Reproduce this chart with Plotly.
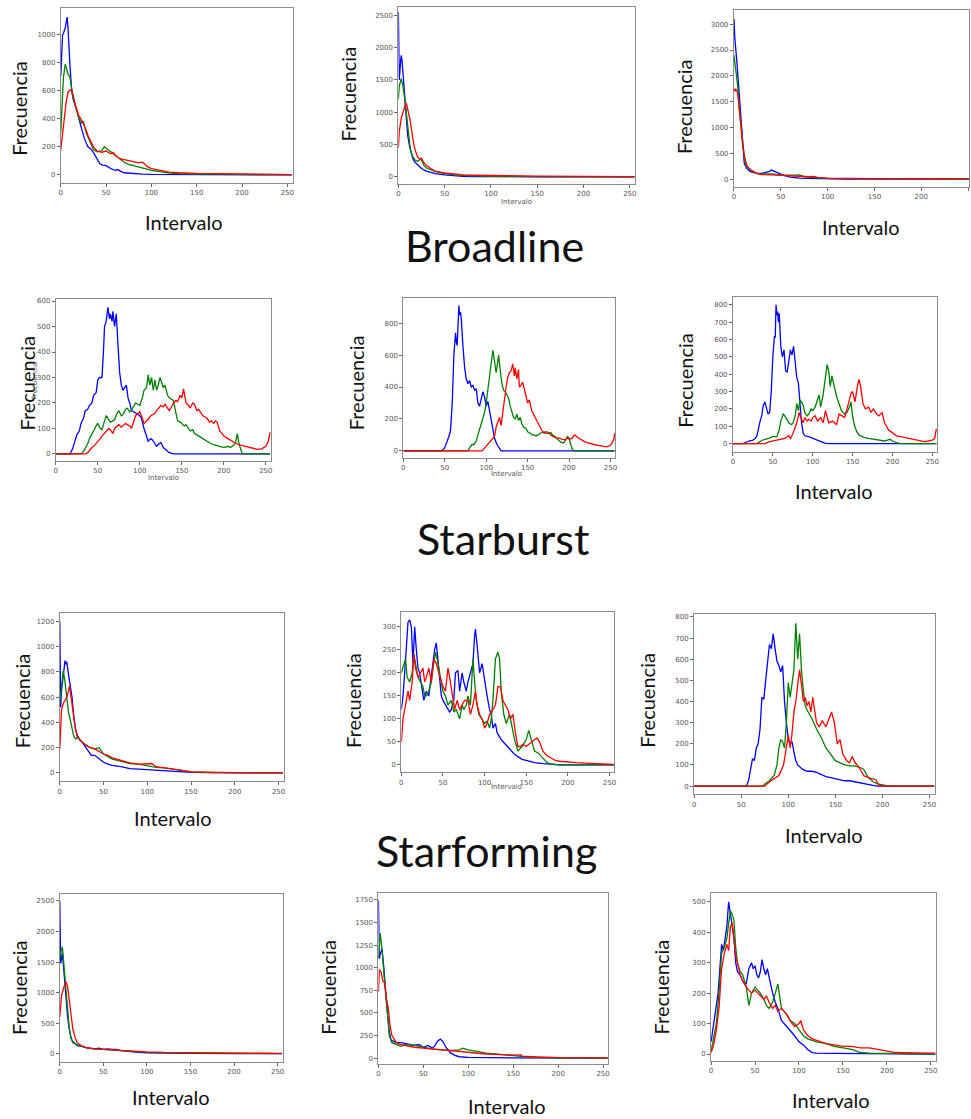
import plotly.graph_objects as go

W, H = 971, 1119

# ---------------- data ----------------
# Panel 1 (Broadline, left)
P1_B_X = [0,1,2,3,5,7,8,10,12,14,16,18,20,23,26,30,33,36,40,43,46,50,55,60,63,66,70,75,80,90,100,120,150,200,255]
P1_B_Y = [700,880,1000,1010,1050,1125,1050,800,600,530,500,460,400,330,260,200,185,160,110,80,70,65,45,32,38,25,15,12,8,5,3,2,1,0,0]
P1_G_X = [0,1,3,5,6,8,10,12,14,17,20,23,25,28,30,33,36,40,45,48,50,55,60,65,70,75,80,85,90,95,100,110,120,130,150,200,255]
P1_G_Y = [300,450,700,790,760,720,700,620,540,470,400,370,380,300,270,220,180,165,170,200,190,160,140,110,90,75,65,60,50,40,32,20,12,8,5,3,1]
P1_R_X = [0,2,4,6,8,10,12,14,16,18,20,23,26,28,30,33,36,40,45,50,55,58,60,65,70,75,80,85,90,93,95,100,110,120,130,140,150,175,200,225,255]
P1_R_Y = [180,300,420,520,590,605,600,560,500,450,420,390,350,320,280,240,200,170,160,170,150,160,140,115,110,100,95,85,90,75,60,45,30,20,15,12,10,8,5,3,2]

# Panel 2 (Broadline, middle)
P2_B_X = [0,1,2,3,4,6,8,10,12,14,16,18,20,25,30,35,40,50,60,70,80,100,150,255]
P2_B_Y = [2550,1500,1700,1880,1800,1400,1000,650,480,350,270,220,200,130,90,70,50,30,15,8,5,2,1,0]
P2_G_X = [0,1,3,5,7,9,11,13,15,18,20,22,24,26,28,30,35,40,50,60,80,100,150,255]
P2_G_Y = [1200,1400,1520,1400,1200,900,600,420,330,260,240,250,280,220,170,140,110,80,50,30,15,8,3,1]
P2_R_X = [0,1,3,5,7,8,9,11,13,15,17,19,21,23,25,27,30,35,40,50,60,70,80,100,150,200,255]
P2_R_Y = [450,700,900,1000,1100,1140,1120,1000,850,650,480,380,300,280,290,230,180,130,90,60,40,30,25,20,12,8,5]

# Panel 3 (Broadline, right)
P3_B_X = [0,1,3,5,7,9,11,14,17,20,25,30,35,38,40,43,45,48,50,55,60,65,70,80,90,100,120,150,255]
P3_B_Y = [3100,2700,2300,1800,1200,700,300,200,150,130,110,110,130,150,175,150,140,110,90,60,40,25,20,15,10,5,2,1,0]
P3_G_X = [0,2,4,6,8,10,12,15,20,25,30,40,50,60,65,70,73,75,80,90,100,120,150,200,255]
P3_G_Y = [2400,2100,1800,1300,900,600,300,200,150,110,100,100,80,70,75,80,60,50,40,25,15,8,4,2,1]
P3_R_X = [0,1,2,3,4,5,7,9,11,14,18,25,30,40,50,60,70,80,85,90,100,120,150,200,255]
P3_R_Y = [1750,1700,1740,1720,1650,1500,1100,700,450,250,180,100,85,80,70,60,55,45,50,30,20,12,8,5,3]

# Panel 4 (Starburst, left)
P4_B_X = [0,17,20,23,25,28,30,33,35,38,40,43,45,48,50,52,55,57,58,60,62,64,65,67,68,70,72,74,76,78,80,82,84,86,88,90,93,95,98,100,102,105,108,110,113,115,118,120,123,125,128,130,133,135,140,255]
P4_B_Y = [0,0,20,55,75,90,120,140,170,175,190,200,230,240,290,300,300,420,500,520,575,530,550,520,560,500,550,430,320,270,250,260,270,220,200,170,165,160,155,150,140,100,70,50,60,55,40,30,40,45,25,20,10,5,0,0]
P4_G_X = [0,30,33,35,38,40,43,45,48,50,53,55,58,60,63,65,68,70,73,75,78,80,83,85,88,90,93,95,98,100,103,105,108,110,112,114,116,118,120,122,124,126,128,130,133,135,138,140,143,145,148,150,153,155,158,160,163,165,168,170,175,180,185,190,195,200,205,208,210,212,214,216,218,222,255]
P4_G_Y = [0,0,10,20,40,60,75,90,110,120,100,95,130,150,135,125,130,135,160,170,150,155,175,180,165,170,190,200,195,190,220,250,260,310,270,300,250,290,250,270,300,280,260,270,230,220,215,210,160,130,125,120,110,115,100,90,95,80,75,70,60,50,40,35,30,25,30,25,30,35,45,80,40,0,0]
P4_R_X = [0,35,38,40,43,45,48,50,53,55,58,60,63,65,68,70,73,75,78,80,83,85,88,90,93,95,98,100,103,105,108,110,113,115,118,120,123,125,128,130,133,135,138,140,143,145,148,150,152,155,158,160,163,165,168,170,173,175,178,180,183,185,188,190,192,195,198,200,205,210,215,220,225,230,235,240,245,250,253,255]
P4_R_Y = [0,0,5,15,25,30,40,50,60,70,80,90,100,95,80,100,110,115,105,110,120,115,110,100,130,150,160,165,140,120,130,135,150,155,160,170,180,190,185,195,180,170,185,200,210,205,230,220,255,200,190,180,200,195,170,175,160,150,145,140,125,130,120,130,125,90,80,70,60,50,40,35,30,25,20,18,20,30,50,85]

# Panel 5 (Starburst, middle)
P5_B_X = [0,46,50,53,55,57,59,61,63,64,65,67,68,69,70,72,74,76,78,80,82,84,86,88,90,92,94,96,98,100,102,104,106,108,110,113,115,118,255]
P5_B_Y = [0,0,20,60,90,130,300,600,740,680,660,910,850,870,820,650,520,450,420,440,400,410,380,390,300,280,320,370,340,280,310,250,180,120,80,40,20,0,0]
P5_G_X = [0,78,80,83,85,88,90,93,95,98,100,103,105,107,108,110,112,114,115,117,119,121,123,125,127,129,131,133,135,137,139,141,143,145,148,150,153,155,158,160,163,165,168,170,173,175,178,180,183,185,188,190,193,195,198,200,202,204,206,255]
P5_G_Y = [0,0,20,40,40,60,100,150,180,240,300,420,500,600,630,560,490,560,600,500,420,380,370,350,330,280,240,210,200,230,190,210,170,150,140,120,110,100,100,95,100,110,115,120,110,110,115,100,90,80,60,55,50,60,90,80,40,10,0,0]
P5_R_X = [0,95,100,103,105,108,110,112,114,116,118,120,122,124,126,128,130,132,134,135,137,139,140,142,144,146,148,150,152,155,158,160,163,165,168,170,173,175,178,180,183,185,188,190,193,195,198,200,203,205,207,210,213,215,218,220,225,230,235,240,245,250,252,254,255]
P5_R_Y = [0,0,30,50,60,80,90,150,180,210,160,250,320,400,460,490,500,545,470,520,450,510,400,410,430,380,330,300,320,250,220,200,170,140,120,110,120,115,100,90,85,80,80,75,70,70,80,75,75,90,100,85,75,65,60,55,45,40,35,30,25,35,50,70,110]

# Panel 6 (Starburst, right)
P6_B_X = [0,12,15,20,25,28,30,32,34,36,38,40,42,44,46,48,50,52,53,54,55,56,57,58,60,62,64,66,68,70,72,74,76,78,80,82,84,86,88,90,95,100,105,110,115,120,255]
P6_B_Y = [0,0,5,15,20,30,45,100,130,160,220,240,200,170,180,300,500,620,610,800,740,760,700,750,560,500,540,420,410,480,540,510,560,470,380,350,200,120,60,45,40,30,20,10,3,0,0]
P6_G_X = [0,30,35,40,45,50,55,58,60,63,65,68,70,73,75,78,80,82,84,86,88,90,93,95,98,100,103,105,108,110,113,115,117,118,120,122,124,126,128,130,133,136,140,143,146,148,150,152,155,158,160,165,170,180,190,197,200,205,210,255]
P6_G_Y = [0,0,15,25,30,40,40,80,130,170,160,140,120,110,115,160,230,190,250,240,220,180,160,170,200,190,210,240,280,210,280,350,430,455,420,330,390,350,300,270,230,190,170,180,210,240,160,110,70,50,45,35,30,22,15,25,15,5,0,0]
P6_R_X = [0,40,45,50,55,60,65,70,72,75,78,80,83,85,88,90,93,95,98,100,103,106,110,113,116,120,125,130,133,136,140,143,146,148,150,153,156,158,160,163,166,170,173,176,180,183,187,190,195,200,205,210,215,220,225,230,235,240,245,250,253,255]
P6_R_Y = [0,0,10,15,20,25,30,45,30,55,100,120,180,150,120,150,130,140,130,150,160,130,150,120,190,120,130,110,170,160,150,200,260,290,300,240,330,370,330,230,200,210,180,200,170,160,180,120,80,60,45,40,35,30,25,20,15,12,15,20,30,85]

# Panel 7 (Starforming, left)
P7_B_X = [0,1,2,4,6,7,8,10,12,14,16,18,20,23,26,30,33,36,40,45,50,55,60,70,80,90,100,110,120,130,140,150,175,255]
P7_B_Y = [1200,520,650,800,890,860,880,780,700,600,450,350,300,260,240,200,160,140,140,110,85,70,60,50,35,30,25,25,20,15,8,4,2,0]
P7_G_X = [0,2,4,6,8,10,12,14,16,18,20,25,30,35,40,45,50,60,70,80,90,100,110,120,130,140,150,175,255]
P7_G_Y = [550,700,810,720,600,480,420,340,290,270,280,250,220,200,190,200,150,110,90,75,70,55,45,40,30,15,8,3,0]
P7_R_X = [0,1,2,4,6,8,10,11,12,13,15,18,20,25,30,35,40,45,50,55,60,70,80,90,100,105,110,120,130,140,150,175,200,255]
P7_R_Y = [190,400,500,550,580,600,650,690,650,600,460,340,290,250,220,200,190,170,150,140,120,100,80,70,70,75,50,40,35,20,8,5,3,2]

# Panel 8 (Starforming, middle)
P8_B_X = [0,2,4,6,8,10,12,14,16,18,20,22,25,27,30,33,35,38,40,42,44,46,48,50,53,55,58,60,63,65,68,70,73,75,78,80,83,86,88,89,91,94,97,100,103,106,108,110,113,115,120,125,130,135,140,145,150,155,160,170,180,190,255]
P8_B_Y = [120,150,200,260,310,315,300,220,300,250,210,200,160,140,160,150,180,230,250,265,230,180,150,140,130,125,115,120,140,200,205,160,200,180,160,180,200,220,280,295,260,200,220,180,150,120,110,80,90,70,55,45,35,25,18,12,10,8,5,3,1,0,0]
P8_G_X = [0,3,5,7,10,13,15,18,20,23,26,28,30,33,36,38,41,43,46,50,53,56,60,63,66,70,73,75,78,80,83,86,88,90,93,96,100,103,106,108,110,113,116,118,120,123,126,130,133,136,140,145,150,153,156,160,165,170,175,180,190,255]
P8_G_Y = [200,220,230,190,180,200,240,210,190,180,170,150,150,160,180,210,245,230,200,160,150,130,140,115,120,100,130,120,130,150,130,230,180,140,110,100,90,95,80,100,140,230,245,230,160,110,90,110,80,55,30,40,55,75,55,30,25,15,5,2,0,0]
P8_R_X = [0,2,5,8,10,13,15,17,20,23,26,28,30,33,36,39,42,45,48,50,53,56,58,61,64,67,70,73,76,80,83,86,89,91,94,97,100,103,106,110,113,116,119,122,125,128,131,134,137,140,143,146,150,153,156,160,163,166,170,175,180,185,190,200,210,220,230,240,255]
P8_R_Y = [50,100,130,160,140,180,240,210,190,200,210,180,190,210,180,230,220,200,180,170,160,210,190,150,120,140,120,130,140,140,110,130,160,130,110,100,80,90,110,120,130,170,170,140,130,120,100,110,70,40,40,45,40,45,50,55,58,50,30,20,15,10,8,6,5,4,3,2,1]

# Panel 9 (Starforming, right)
P9_B_X = [0,55,56,58,60,62,64,66,68,70,72,74,76,78,80,82,84,86,88,90,92,94,96,98,100,102,104,106,108,110,115,120,125,130,135,140,145,150,155,160,165,170,175,180,185,190,195,255]
P9_B_Y = [0,0,5,30,80,130,120,180,200,270,420,410,500,600,670,650,720,650,590,570,540,570,400,300,220,200,210,160,120,100,80,70,70,65,55,45,40,35,30,25,25,20,15,10,5,3,0,0]
P9_G_X = [0,73,75,80,85,88,90,92,94,96,98,100,102,104,106,108,110,112,114,116,118,120,125,130,135,140,145,150,155,160,165,170,175,180,185,190,195,200,207,255]
P9_G_Y = [0,0,10,25,50,100,180,220,210,180,300,490,420,480,550,770,600,720,550,450,380,360,320,270,230,180,150,120,110,100,95,95,90,80,40,20,10,5,0,0]
P9_R_X = [0,75,80,85,88,90,95,98,100,102,104,106,108,110,112,114,116,118,120,122,124,126,128,130,133,136,140,143,146,149,152,155,158,162,165,168,171,175,180,185,190,193,196,200,255]
P9_R_Y = [0,0,20,35,40,50,100,200,240,180,250,350,400,480,550,480,400,420,380,400,350,420,370,300,280,310,280,320,350,300,200,220,150,120,110,140,110,90,50,40,35,30,5,0,0]

# Panel 10 (bottom row, left)
P10_B_X = [0,1,2,3,5,7,9,11,13,15,20,25,30,40,45,50,55,60,65,70,80,90,100,120,150,200,255]
P10_B_Y = [2500,1480,1550,1650,1300,900,600,400,250,200,130,120,100,80,90,70,80,70,70,50,30,20,15,10,5,3,0]
P10_G_X = [0,1,3,5,7,9,11,13,15,20,25,30,40,50,60,70,80,90,100,120,150,200,255]
P10_G_Y = [1550,1650,1750,1400,1000,700,400,250,180,150,130,100,80,70,60,50,40,30,20,15,8,5,2]
P10_R_X = [0,2,5,7,9,11,13,15,18,20,25,30,40,50,60,70,80,90,100,120,150,200,255]
P10_R_Y = [600,950,1100,1180,1100,850,600,400,250,180,130,100,80,70,60,55,45,40,30,20,12,8,5]

# Panel 11 (bottom row, middle)
P11_B_X = [0,1,2,4,6,8,10,12,14,18,20,25,30,35,40,45,50,55,60,63,66,69,72,75,80,85,90,100,120,150,255]
P11_B_Y = [1750,1100,1150,1210,1000,700,500,300,200,180,170,170,160,150,140,150,120,140,110,140,190,210,180,120,60,30,15,8,5,3,0]
P11_G_X = [0,2,4,6,8,10,12,15,20,25,30,40,50,60,70,80,90,94,100,110,120,130,140,150,160,170,200,255]
P11_G_Y = [1100,1380,1200,900,700,500,250,170,150,130,150,140,120,100,90,85,90,110,90,70,55,45,35,25,15,8,3,0]
P11_R_X = [0,1,3,5,7,9,11,13,15,20,25,30,40,50,60,70,80,90,100,110,120,130,140,150,156,158,160,170,180,200,255]
P11_R_Y = [730,980,950,850,830,650,550,350,250,170,150,140,120,110,100,90,80,70,65,55,45,40,35,30,32,40,20,15,10,6,3]

# Panel 12 (bottom row, right)
P12_B_X = [0,3,5,8,10,12,14,16,18,20,22,24,26,28,30,33,36,40,43,46,48,50,52,54,56,58,60,62,64,66,68,70,73,76,80,83,86,90,95,100,105,110,115,120,140,255]
P12_B_Y = [40,100,130,200,280,360,340,380,420,500,450,420,380,300,270,260,240,230,280,300,280,290,260,250,270,310,280,260,280,250,220,200,170,150,110,100,90,80,60,40,30,15,5,3,2,0]
P12_G_X = [0,3,6,9,12,15,18,20,22,24,26,28,30,33,36,40,43,46,50,53,56,60,63,66,70,73,76,78,80,83,86,90,95,100,105,110,115,120,130,140,150,160,170,180,200,255]
P12_G_Y = [10,50,100,200,330,350,380,430,470,460,440,350,300,270,260,220,160,200,220,210,200,180,160,150,170,200,230,190,150,140,130,110,100,80,60,50,45,40,35,25,20,15,5,3,2,0]
P12_R_X = [0,3,6,9,12,15,18,20,22,24,26,28,30,33,36,40,43,46,50,53,56,60,63,66,70,73,76,80,83,86,90,95,100,102,105,110,115,120,130,140,150,160,170,180,190,200,210,230,255]
P12_R_Y = [5,30,80,150,280,330,360,340,420,430,380,320,300,260,240,220,210,200,210,200,190,180,190,170,150,160,140,150,140,130,110,90,100,110,80,60,50,45,35,30,25,25,20,20,15,8,5,4,3]

SECTION_TITLES = ["Broadline", "Starburst", "Starforming"]
X_TICKS = [0, 50, 100, 150, 200, 250]

PANEL_SERIES = [
    ((P1_B_X, P1_B_Y), (P1_G_X, P1_G_Y), (P1_R_X, P1_R_Y)),
    ((P2_B_X, P2_B_Y), (P2_G_X, P2_G_Y), (P2_R_X, P2_R_Y)),
    ((P3_B_X, P3_B_Y), (P3_G_X, P3_G_Y), (P3_R_X, P3_R_Y)),
    ((P4_B_X, P4_B_Y), (P4_G_X, P4_G_Y), (P4_R_X, P4_R_Y)),
    ((P5_B_X, P5_B_Y), (P5_G_X, P5_G_Y), (P5_R_X, P5_R_Y)),
    ((P6_B_X, P6_B_Y), (P6_G_X, P6_G_Y), (P6_R_X, P6_R_Y)),
    ((P7_B_X, P7_B_Y), (P7_G_X, P7_G_Y), (P7_R_X, P7_R_Y)),
    ((P8_B_X, P8_B_Y), (P8_G_X, P8_G_Y), (P8_R_X, P8_R_Y)),
    ((P9_B_X, P9_B_Y), (P9_G_X, P9_G_Y), (P9_R_X, P9_R_Y)),
    ((P10_B_X, P10_B_Y), (P10_G_X, P10_G_Y), (P10_R_X, P10_R_Y)),
    ((P11_B_X, P11_B_Y), (P11_G_X, P11_G_Y), (P11_R_X, P11_R_Y)),
    ((P12_B_X, P12_B_Y), (P12_G_X, P12_G_Y), (P12_R_X, P12_R_Y)),
]

# ---------------- layout geometry (pixels) ----------------
# left, right, top, bottom, ymin, ymax, ydtick, ytop_tick, xmax
GEOM = [
    (59, 292, 7, 182, -57, 1190, 200, 1000, 256),
    (398, 636, 6, 183, -108, 2630, 500, 2500, 256),
    (735, 971, 9, 186, -150, 3275, 500, 3000, 251),
    (54, 270, 298, 460, -26, 609, 100, 600, 256),
    (403, 616, 297, 457, -42, 959, 200, 800, 256),
    (734, 939, 296, 451, -46, 846, 100, 800, 256),
    (58, 283, 613, 781, -66, 1263, 200, 1200, 256),
    (401, 615, 612, 772, -16, 331, 50, 300, 256),
    (695, 937, 614, 794, -39, 812, 100, 800, 256),
    (58, 282, 894, 1062, -137, 2611, 500, 2500, 256),
    (378, 609, 893, 1064, -66, 1824, 250, 1750, 256),
    (712, 938, 893, 1061, -23, 528, 100, 500, 256),
]

COLORS = ["#0000ff", "#008000", "#ff0000"]

def px(x):
    return x / W

def py(y):
    return 1 - y / H

fig = go.Figure()
layout = dict(
    width=W, height=H, margin=dict(l=0, r=0, t=0, b=0),
    paper_bgcolor="white", plot_bgcolor="white", showlegend=False,
)

for i, (series, g) in enumerate(zip(PANEL_SERIES, GEOM)):
    n = i + 1
    sfx = "" if n == 1 else str(n)
    left, right, top, bottom, ymin, ymax, dt, ytop, xmax = g
    axis_common = dict(
        showline=True, mirror=True, linecolor="#8c8c8c", linewidth=1,
        ticks="outside", ticklen=3, tickwidth=1, tickcolor="#666",
        showgrid=False, zeroline=False, fixedrange=True,
        tickfont=dict(family="DejaVu Sans", size=7, color="#555"),
    )
    layout["xaxis" + sfx] = dict(
        domain=[px(left), px(right)], range=[0, xmax], anchor="y" + sfx,
        tickmode="array", tickvals=X_TICKS, **axis_common)
    yt = list(range(0, ytop + 1, dt))
    layout["yaxis" + sfx] = dict(
        domain=[py(bottom), py(top)], range=[ymin, ymax], anchor="x" + sfx,
        tickmode="array", tickvals=yt, **axis_common)
    for (xs, ys), c in zip(series, COLORS):
        fig.add_trace(go.Scatter(
            x=xs, y=ys, mode="lines", line=dict(color=c, width=1.3),
            xaxis="x" + sfx, yaxis="y" + sfx, hoverinfo="skip"))

ann = []
BIG = dict(family="Lato", size=20, color="#111")
# section titles
for t, (cx, cy) in zip(SECTION_TITLES, [(495, 245), (503, 538), (487, 850)]):
    ann.append(dict(text=t, x=px(cx), y=py(cy), xref="paper", yref="paper",
                    showarrow=False, xanchor="center", yanchor="middle",
                    font=dict(family="Lato", size=43, color="#111")))
# big y labels
for (cx, cy) in [(17, 107), (347, 93), (685, 106), (25, 382), (355, 382), (685, 380),
                 (20, 700), (353, 700), (648, 700), (17, 987), (327, 987), (662, 987)]:
    ann.append(dict(text="Frecuencia", x=px(cx), y=py(cy), xref="paper", yref="paper",
                    showarrow=False, xanchor="center", yanchor="middle", textangle=-90,
                    font=BIG))
# big x labels
for (cx, cy) in [(183, 221), (863, 226), (835, 490), (172, 818), (825, 835),
                 (170, 1097), (507, 1106), (832, 1100)]:
    ann.append(dict(text="Intervalo", x=px(cx), y=py(cy), xref="paper", yref="paper",
                    showarrow=False, xanchor="center", yanchor="middle", font=BIG,
                    borderpad=0))
# small original matplotlib labels
SMALL = dict(family="DejaVu Sans", size=7, color="#555")
for (cx, cy) in [(517, 201), (162, 477), (507, 473), (507, 787)]:
    ann.append(dict(text="Intervalo", x=px(cx), y=py(cy), xref="paper", yref="paper",
                    showarrow=False, xanchor="center", yanchor="middle", font=SMALL))
ann.append(dict(text="Frecuencia", x=px(33), y=py(380), xref="paper", yref="paper",
                showarrow=False, xanchor="center", yanchor="middle", textangle=-90, font=SMALL))

layout["annotations"] = ann
fig.update_layout(**layout)
fig.write_html("out.html", config={"displayModeBar": False, "staticPlot": True},
               post_script="document.body.style.margin='0px';document.body.style.padding='0px';")
